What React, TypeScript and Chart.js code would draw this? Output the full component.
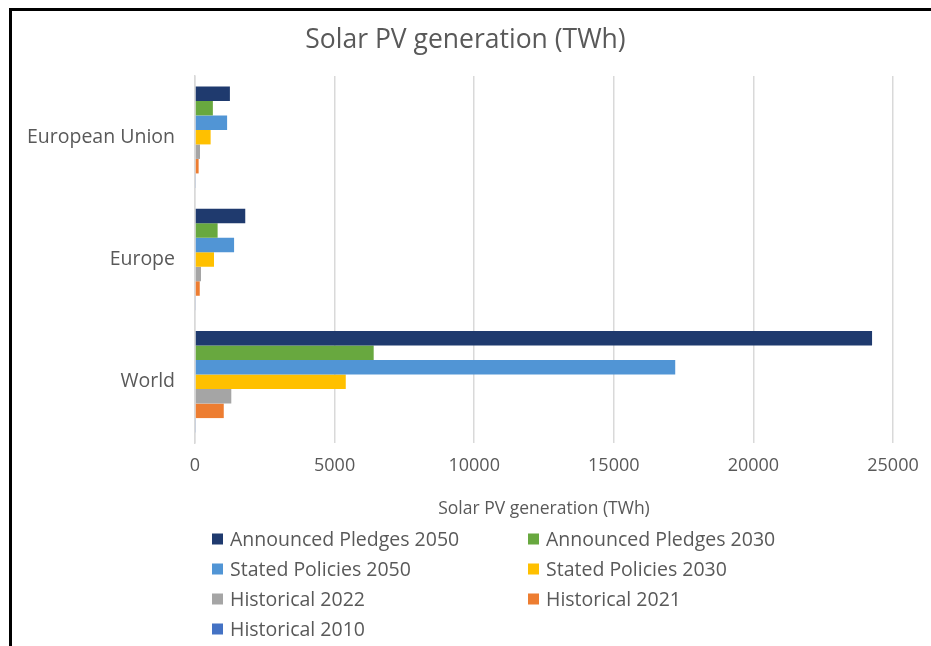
import React, { useEffect, useRef } from 'react';
import { Chart, registerables } from 'chart.js';

Chart.register(...registerables);

const categories = ['European Union', 'Europe', 'World'];
const seriesNames = [
  'Announced Pledges 2050',
  'Announced Pledges 2030',
  'Stated Policies 2050',
  'Stated Policies 2030',
  'Historical 2022',
  'Historical 2021',
  'Historical 2010',
];
const announcedPledges2050 = [1250, 1800, 24250];
const announcedPledges2030 = [640, 810, 6400];
const statedPolicies2050 = [1150, 1400, 17200];
const statedPolicies2030 = [560, 680, 5400];
const historical2022 = [180, 215, 1300];
const historical2021 = [130, 170, 1030];
const historical2010 = [22, 23, 32];
const xTicks = [0, 5000, 10000, 15000, 20000, 25000];
const chartTitle = 'Solar PV generation (TWh)';
const xAxisTitle = 'Solar PV generation (TWh)';

const seriesValues = [
  announcedPledges2050,
  announcedPledges2030,
  statedPolicies2050,
  statedPolicies2030,
  historical2022,
  historical2021,
  historical2010,
];
const seriesColors = ['#1F3A6E', '#68A83F', '#5195D5', '#FFC000', '#A5A5A5', '#ED7D31', '#4472C4'];

const FONT = '"Open Sans", sans-serif';
const TEXT = '#595959';

const decorPlugin = {
  id: 'decor',
  afterDraw(chart: any) {
    const ctx = chart.ctx;
    ctx.save();
    // title, centred on the whole frame
    ctx.fillStyle = TEXT;
    ctx.font = `26.5px ${FONT}`;
    ctx.textAlign = 'center';
    ctx.textBaseline = 'middle';
    ctx.fillText(chartTitle, chart.width / 2, 40);
    // legend
    const cols = [212, 528];
    const rows = [539, 569, 599, 629];
    chart.data.datasets.forEach((ds: any, i: number) => {
      const x = cols[i % 2];
      const y = rows[Math.floor(i / 2)];
      ctx.fillStyle = ds.backgroundColor;
      ctx.fillRect(x, y - 5.5, 11, 11);
      ctx.fillStyle = TEXT;
      ctx.font = `19.5px ${FONT}`;
      ctx.textBaseline = 'middle';
      ctx.textAlign = 'left';
      ctx.fillText(ds.label, x + 18, y + 1);
    });
    // frame
    ctx.fillStyle = '#000';
    ctx.fillRect(9, 8, 3, 700);
    ctx.fillRect(9, 8, 940, 3);
    ctx.restore();
  },
};

export default function App() {
  const ref = useRef<HTMLCanvasElement | null>(null);
  useEffect(() => {
    if (!ref.current) return;
    const chart = new Chart(ref.current, {
      type: 'bar',
      data: {
        labels: categories,
        datasets: seriesNames.map((name, i) => ({
          label: name,
          data: seriesValues[i],
          backgroundColor: seriesColors[i],
          borderWidth: 0,
          categoryPercentage: 0.83,
          barPercentage: 1,
        })),
      },
      options: {
        indexAxis: 'y',
        responsive: false,
        animation: false,
        layout: { padding: { left: 12, right: 38, top: 76, bottom: 126 } },
        plugins: {
          legend: { display: false },
          tooltip: { enabled: false },
          title: { display: false },
        },
        scales: {
          x: {
            min: 0,
            max: 25000,
            afterBuildTicks(scale: any) {
              scale.ticks = xTicks.map((v) => ({ value: v }));
            },
            ticks: {
              color: TEXT,
              font: { family: FONT, size: 18 },
              padding: 12,
              callback: (v: any) => String(v),
            },
            grid: { color: '#D9D9D9', lineWidth: 1.5, drawTicks: false },
            border: { display: false },
            title: {
              display: true,
              text: xAxisTitle,
              color: TEXT,
              font: { family: FONT, size: 17.5 },
              padding: { top: 4, bottom: 0 },
            },
            afterFit(scale: any) {
              scale.height = 77;
            },
          },
          y: {
            ticks: { color: TEXT, font: { family: FONT, size: 19.5 }, padding: 20 },
            grid: { display: false, drawTicks: false },
            border: { display: true, color: '#D9D9D9', width: 1.5 },
            afterFit(scale: any) {
              scale.width = 183;
            },
          },
        },
      } as any,
      plugins: [decorPlugin],
    });
    return () => chart.destroy();
  }, []);
  return (
    <div style={{ position: 'absolute', left: 0, top: 0, width: 931, height: 646, background: '#fff' }}>
      <canvas ref={ref} width={931} height={646} />
    </div>
  );
}
